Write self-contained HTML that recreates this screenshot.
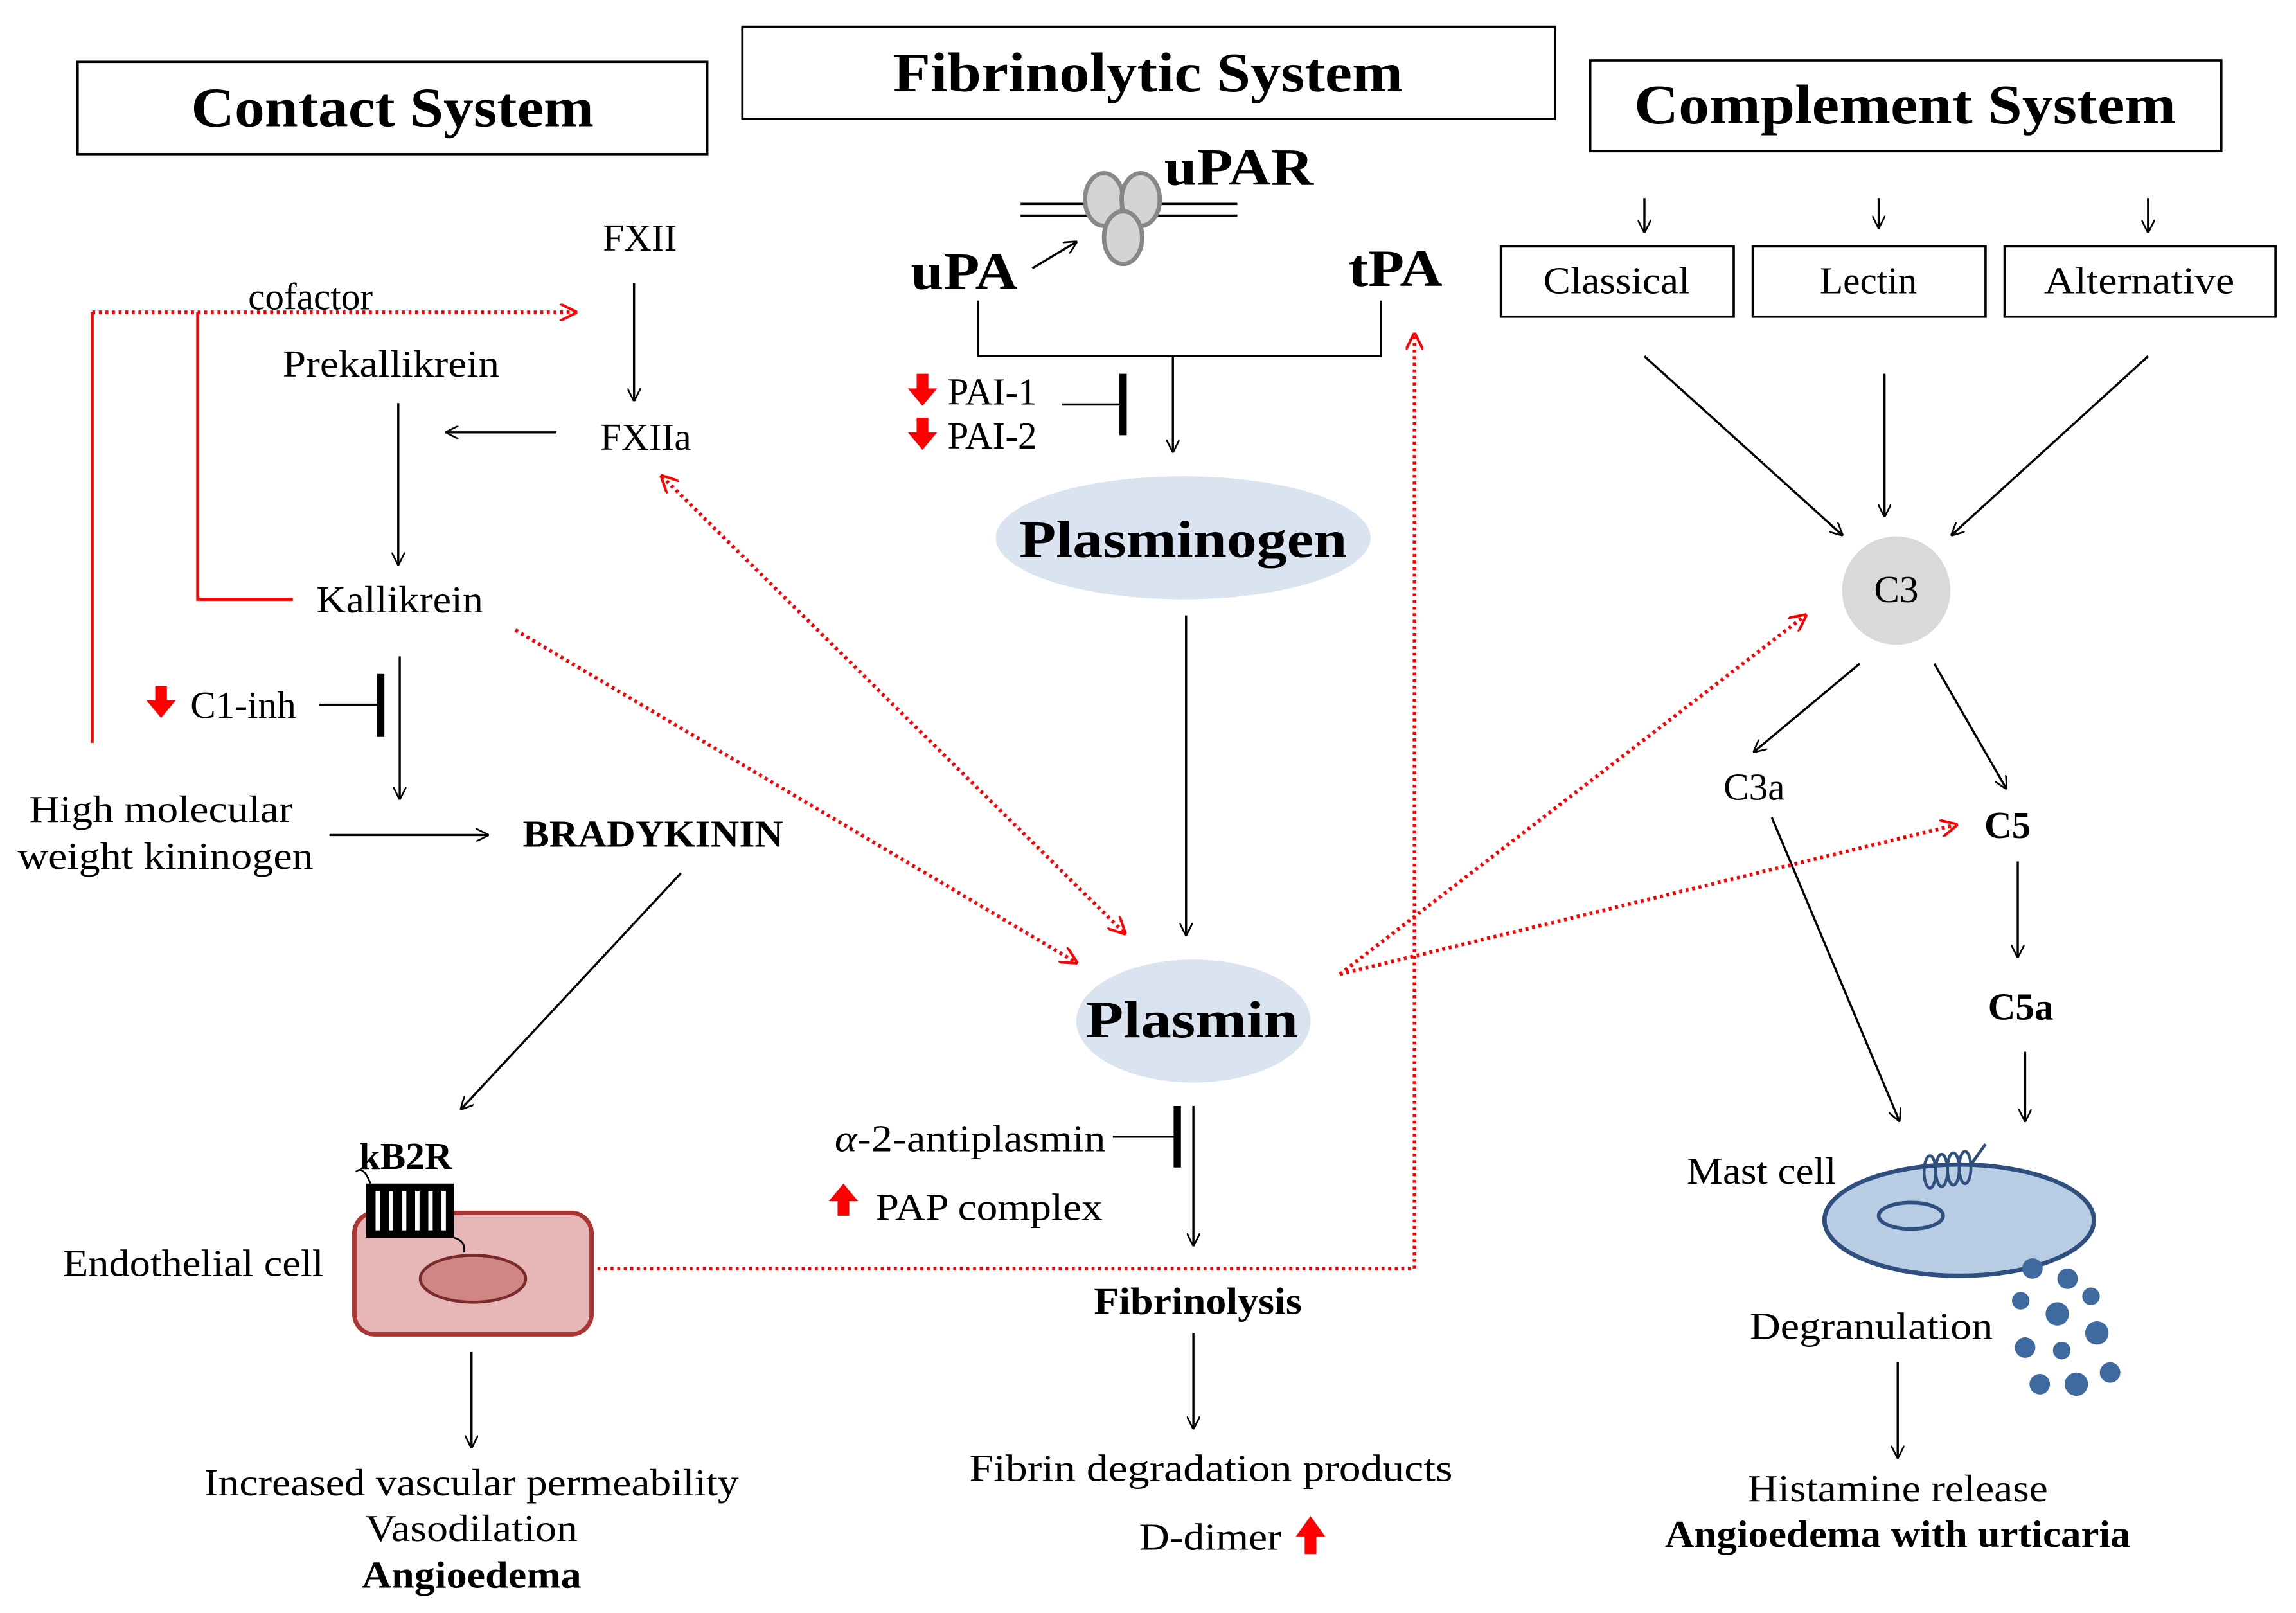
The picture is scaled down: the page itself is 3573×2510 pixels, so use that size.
<!DOCTYPE html>
<html><head><meta charset="utf-8"><style>html,body{margin:0;padding:0;background:#fff}svg{display:block}</style></head><body>
<svg width="3573" height="2510" viewBox="0 0 1568 1101" xmlns="http://www.w3.org/2000/svg" font-family="'Liberation Serif', serif">
<defs>
<marker id="a" viewBox="0 0 10 10" refX="9" refY="5" markerWidth="9" markerHeight="9" orient="auto-start-reverse" markerUnits="userSpaceOnUse"><path d="M0,0 L10,5 L0,10" fill="none" stroke="#000" stroke-width="1.3"/></marker>
<marker id="r" viewBox="0 0 10 10" refX="9" refY="5" markerWidth="12" markerHeight="12" orient="auto-start-reverse" markerUnits="userSpaceOnUse"><path d="M0,0 L10,5 L0,10" fill="none" stroke="#f00" stroke-width="1.5"/></marker>
</defs>
<g fill="none" stroke="#000" stroke-width="1.6">
<rect x="53" y="42" width="430" height="63"/>
<rect x="507" y="18" width="555" height="63"/>
<rect x="1086" y="41" width="431" height="62"/>
<rect x="1025" y="168" width="159" height="48"/>
<rect x="1197" y="168" width="159" height="48"/>
<rect x="1369" y="168" width="185" height="48"/>
</g>
<g font-size="38" text-anchor="middle" font-weight="bold">
<text x="268" y="86" textLength="275" lengthAdjust="spacingAndGlyphs">Contact System</text>
<text x="784" y="62" textLength="348" lengthAdjust="spacingAndGlyphs">Fibrinolytic System</text>
<text x="1301" y="84" textLength="370" lengthAdjust="spacingAndGlyphs">Complement System</text>
</g>
<!-- uPAR -->
<g stroke="#000" stroke-width="1.6"><line x1="697" y1="139" x2="845" y2="139"/><line x1="697" y1="147" x2="845" y2="147"/></g>
<g fill="#d4d4d4" stroke="#888" stroke-width="3"><ellipse cx="754" cy="136" rx="13" ry="18"/><ellipse cx="779" cy="136" rx="13" ry="18"/><ellipse cx="767" cy="162" rx="13" ry="18"/></g>
<g font-size="36" font-weight="bold"><text x="795" y="126" textLength="102" lengthAdjust="spacingAndGlyphs">uPAR</text><text x="622" y="197" textLength="73" lengthAdjust="spacingAndGlyphs">uPA</text><text x="921" y="195" textLength="64" lengthAdjust="spacingAndGlyphs">tPA</text></g>
<g stroke="#000" stroke-width="1.5" fill="none">
<line x1="705" y1="183" x2="735" y2="165" marker-end="url(#a)"/>
<polyline points="668,205 668,243 943,243 943,205"/>
<line x1="801" y1="243" x2="801" y2="308" marker-end="url(#a)"/>
<line x1="725" y1="276" x2="765" y2="276"/>
<line x1="810" y1="420" x2="810" y2="638" marker-end="url(#a)"/>
<line x1="760" y1="776" x2="802" y2="776"/>
<line x1="815" y1="755" x2="815" y2="850" marker-end="url(#a)"/>
<line x1="815" y1="910" x2="815" y2="975" marker-end="url(#a)"/>
<line x1="433" y1="193" x2="433" y2="273" marker-end="url(#a)"/>
<line x1="380" y1="295" x2="305" y2="295" marker-end="url(#a)"/>
<line x1="272" y1="275" x2="272" y2="385" marker-end="url(#a)"/>
<line x1="218" y1="481" x2="258" y2="481"/>
<line x1="273" y1="448" x2="273" y2="545" marker-end="url(#a)"/>
<line x1="225" y1="570" x2="333" y2="570" marker-end="url(#a)"/>
<line x1="465" y1="596" x2="315" y2="757" marker-end="url(#a)"/>
<line x1="322" y1="923" x2="322" y2="988" marker-end="url(#a)"/>
<line x1="1123" y1="135" x2="1123" y2="158" marker-end="url(#a)"/>
<line x1="1283" y1="135" x2="1283" y2="155" marker-end="url(#a)"/>
<line x1="1467" y1="135" x2="1467" y2="158" marker-end="url(#a)"/>
<line x1="1123" y1="243" x2="1258" y2="365" marker-end="url(#a)"/>
<line x1="1287" y1="255" x2="1287" y2="352" marker-end="url(#a)"/>
<line x1="1467" y1="243" x2="1333" y2="365" marker-end="url(#a)"/>
<line x1="1270" y1="453" x2="1198" y2="513" marker-end="url(#a)"/>
<line x1="1321" y1="453" x2="1370" y2="538" marker-end="url(#a)"/>
<line x1="1378" y1="588" x2="1378" y2="653" marker-end="url(#a)"/>
<line x1="1383" y1="718" x2="1383" y2="765" marker-end="url(#a)"/>
<line x1="1210" y1="558" x2="1297" y2="765" marker-end="url(#a)"/>
<line x1="1296" y1="930" x2="1296" y2="995" marker-end="url(#a)"/>
</g>
<g stroke="#000" stroke-width="5"><line x1="767" y1="255" x2="767" y2="297"/><line x1="804" y1="755" x2="804" y2="797"/><line x1="260" y1="460" x2="260" y2="503"/></g>
<g fill="#f00">
<path d="M626,255 h8 v10 h6 l-10,12 l-10,-12 h6z"/>
<path d="M626,285 h8 v10 h6 l-10,12 l-10,-12 h6z"/>
<path d="M106,468 h8 v10 h6 l-10,12 l-10,-12 h6z"/>
<path d="M572,830 h8 v-10 h6 l-10,-12 l-10,12 h6z"/>
<path d="M891,1061 h8 v-12 h6 l-10,-14 l-10,14 h6z"/>
</g>
<ellipse cx="808" cy="367" rx="128" ry="42" fill="#dae3f0"/>
<ellipse cx="815" cy="697" rx="80" ry="42" fill="#dae3f0"/>
<g font-size="36" font-weight="bold" text-anchor="middle"><text x="808" y="380" textLength="224" lengthAdjust="spacingAndGlyphs">Plasminogen</text><text x="814" y="708" textLength="145" lengthAdjust="spacingAndGlyphs">Plasmin</text></g>
<g font-size="26">
<text x="647" y="276">PAI-1</text><text x="647" y="306">PAI-2</text>
<text x="570" y="786" textLength="185" lengthAdjust="spacingAndGlyphs"><tspan font-style="italic">α</tspan>-2-antiplasmin</text>
<text x="598" y="833" textLength="155" lengthAdjust="spacingAndGlyphs">PAP complex</text>
<text x="818" y="897" text-anchor="middle" font-weight="bold" textLength="142" lengthAdjust="spacingAndGlyphs">Fibrinolysis</text>
<text x="827" y="1011" text-anchor="middle" textLength="330" lengthAdjust="spacingAndGlyphs">Fibrin degradation  products</text>
<text x="778" y="1058" textLength="97" lengthAdjust="spacingAndGlyphs">D-dimer</text>
<text x="437" y="171" text-anchor="middle">FXII</text>
<text x="441" y="307" text-anchor="middle">FXIIa</text>
<text x="212" y="211" text-anchor="middle">cofactor</text>
<text x="267" y="257" text-anchor="middle" textLength="148" lengthAdjust="spacingAndGlyphs">Prekallikrein</text>
<text x="273" y="418" text-anchor="middle" textLength="114" lengthAdjust="spacingAndGlyphs">Kallikrein</text>
<text x="130" y="490">C1-inh</text>
<text x="110" y="561" text-anchor="middle" textLength="180" lengthAdjust="spacingAndGlyphs">High molecular</text>
<text x="113" y="593" text-anchor="middle" textLength="202" lengthAdjust="spacingAndGlyphs">weight kininogen</text>
<text x="446" y="578" text-anchor="middle" font-weight="bold" textLength="178" lengthAdjust="spacingAndGlyphs">BRADYKININ</text>
<text x="277" y="798" text-anchor="middle" font-weight="bold">kB2R</text>
<text x="132" y="871" text-anchor="middle" textLength="178" lengthAdjust="spacingAndGlyphs">Endothelial cell</text>
<text x="322" y="1021" text-anchor="middle" textLength="365" lengthAdjust="spacingAndGlyphs">Increased vascular permeability</text>
<text x="322" y="1052" text-anchor="middle" textLength="145" lengthAdjust="spacingAndGlyphs">Vasodilation</text>
<text x="322" y="1084" text-anchor="middle" font-weight="bold" textLength="150" lengthAdjust="spacingAndGlyphs">Angioedema</text>
<text x="1104" y="200" text-anchor="middle" textLength="100" lengthAdjust="spacingAndGlyphs">Classical</text>
<text x="1276" y="200" text-anchor="middle">Lectin</text>
<text x="1461" y="200" text-anchor="middle" textLength="130" lengthAdjust="spacingAndGlyphs">Alternative</text>
<text x="1198" y="546" text-anchor="middle">C3a</text>
<text x="1371" y="572" text-anchor="middle" font-weight="bold">C5</text>
<text x="1380" y="696" text-anchor="middle" font-weight="bold">C5a</text>
<text x="1203" y="808" text-anchor="middle" textLength="102" lengthAdjust="spacingAndGlyphs">Mast cell</text>
<text x="1278" y="914" text-anchor="middle" textLength="166" lengthAdjust="spacingAndGlyphs">Degranulation</text>
<text x="1296" y="1025" text-anchor="middle" textLength="205" lengthAdjust="spacingAndGlyphs">Histamine release</text>
<text x="1296" y="1056" text-anchor="middle" font-weight="bold" textLength="318" lengthAdjust="spacingAndGlyphs">Angioedema with urticaria</text>
</g>
<circle cx="1295" cy="403" r="37" fill="#d9d9d9"/>
<text x="1295" y="411" font-size="26" text-anchor="middle">C3</text>
<rect x="242" y="828" width="162" height="83" rx="14" fill="#e7b6b6" stroke="#a33" stroke-width="3"/>
<ellipse cx="323" cy="873" rx="36" ry="16" fill="#d18686" stroke="#7a2a2a" stroke-width="2"/>
<rect x="250" y="808" width="60" height="37" fill="#000"/>
<g stroke="#fff" stroke-width="3"><line x1="258" y1="813" x2="258" y2="840"/><line x1="267" y1="813" x2="267" y2="840"/><line x1="276" y1="813" x2="276" y2="840"/><line x1="285" y1="813" x2="285" y2="840"/><line x1="294" y1="813" x2="294" y2="840"/><line x1="303" y1="813" x2="303" y2="840"/></g>
<path d="M243,800 q5,-5 10,8 M310,845 q8,2 7,10" fill="none" stroke="#000" stroke-width="1.2"/>
<ellipse cx="1338" cy="833" rx="92" ry="38" fill="#b8cce4" stroke="#2f4f7f" stroke-width="3"/>
<ellipse cx="1305" cy="830" rx="22" ry="9" fill="none" stroke="#2f4f7f" stroke-width="2.5"/>
<g fill="none" stroke="#2f4f7f" stroke-width="2"><ellipse cx="1318" cy="800" rx="4" ry="11"/><ellipse cx="1326" cy="799" rx="4" ry="11"/><ellipse cx="1334" cy="798" rx="4" ry="11"/><ellipse cx="1342" cy="797" rx="4" ry="11"/><path d="M1346,795 l10,-14"/></g>
<g fill="#3f6aa0">
<circle cx="1388" cy="866" r="7"/><circle cx="1412" cy="873" r="7"/><circle cx="1380" cy="888" r="6"/><circle cx="1405" cy="897" r="8"/><circle cx="1428" cy="885" r="6"/><circle cx="1383" cy="920" r="7"/><circle cx="1408" cy="922" r="6"/><circle cx="1432" cy="910" r="8"/><circle cx="1393" cy="945" r="7"/><circle cx="1418" cy="945" r="8"/><circle cx="1441" cy="937" r="7"/>
</g>
<g fill="none" stroke="#f00" stroke-width="2">
<polyline points="63,507 63,213"/>
<polyline points="200,409 135,409 135,213"/>
</g>
<g fill="none" stroke="#f00" stroke-width="2.5" stroke-dasharray="2,2.5">
<line x1="63" y1="213" x2="393" y2="213" marker-end="url(#r)"/>
<polyline points="408,866 966,866 966,228" marker-end="url(#r)"/>
<line x1="352" y1="430" x2="735" y2="657" marker-end="url(#r)"/>
<line x1="452" y1="325" x2="768" y2="637" marker-start="url(#r)" marker-end="url(#r)"/>
<line x1="915" y1="665" x2="1233" y2="420" marker-end="url(#r)"/>
<line x1="915" y1="665" x2="1336" y2="563" marker-end="url(#r)"/>
</g>
</svg>
</body></html>
